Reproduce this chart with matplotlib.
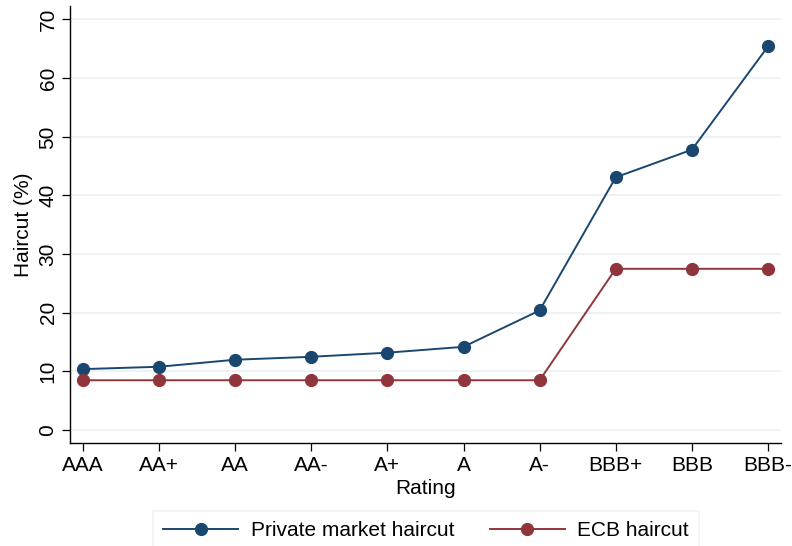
import matplotlib
matplotlib.use("Agg")
import matplotlib.pyplot as plt

plt.rcParams['font.family'] = ['Liberation Sans', 'DejaVu Sans']

# ── Data ──────────────────────────────────────────────────────────────────────
ratings = ['AAA', 'AA+', 'AA', 'AA-', 'A+', 'A', 'A-', 'BBB+', 'BBB', 'BBB-']
private_haircut = [10.4, 10.8, 12.0, 12.5, 13.2, 14.2, 20.4, 43.1, 47.8, 65.4]
ecb_haircut = [8.5, 8.5, 8.5, 8.5, 8.5, 8.5, 8.5, 27.5, 27.5, 27.5]
y_ticks = [0, 10, 20, 30, 40, 50, 60, 70]

# ── Palette ───────────────────────────────────────────────────────────────────
NAVY = '#1a476f'
MAROON = '#90353b'
GRID = '#eaf0f4'
FS = 15

fig = plt.figure(figsize=(7.92, 5.46), dpi=100)
ax = fig.add_axes([0.0884, 0.1886, 0.8976, 0.8004])

x = list(range(len(ratings)))
ax.plot(x, private_haircut, color=NAVY, lw=1.4, marker='o', ms=8.5,
        label='Private market haircut', zorder=3)
ax.plot(x, ecb_haircut, color=MAROON, lw=1.4, marker='o', ms=8.5,
        label='ECB haircut', zorder=3)

ax.set_xlim(-0.17, len(ratings) - 1 + 0.17)
ax.set_ylim(-2.2, 72.3)
ax.set_xticks(x)
ax.set_xticklabels(ratings, fontsize=FS)
ax.set_yticks(y_ticks)
ax.set_yticklabels([str(t) for t in y_ticks], fontsize=FS,
                   rotation=90, va='center')
ax.grid(axis='y', color=GRID, lw=1.2, zorder=0)
ax.set_axisbelow(True)

for s in ['top', 'right']:
    ax.spines[s].set_visible(False)
for s in ['left', 'bottom']:
    ax.spines[s].set_linewidth(1.0)
ax.tick_params(length=6, width=0.9, pad=3)

ax.set_xlabel('Rating', fontsize=FS, labelpad=3)
ax.set_ylabel('Haircut (%)', fontsize=FS, labelpad=4)

leg = fig.legend(loc='upper left', bbox_to_anchor=(153 / 792, 1 - 511 / 546),
                 ncol=2, fontsize=FS, frameon=True, fancybox=False,
                 edgecolor=GRID, handlelength=3.6, handletextpad=0.6,
                 columnspacing=1.7, borderpad=0.5, borderaxespad=0)
leg.get_frame().set_linewidth(1.2)

fig.savefig('out.png', dpi=100, facecolor='white')
